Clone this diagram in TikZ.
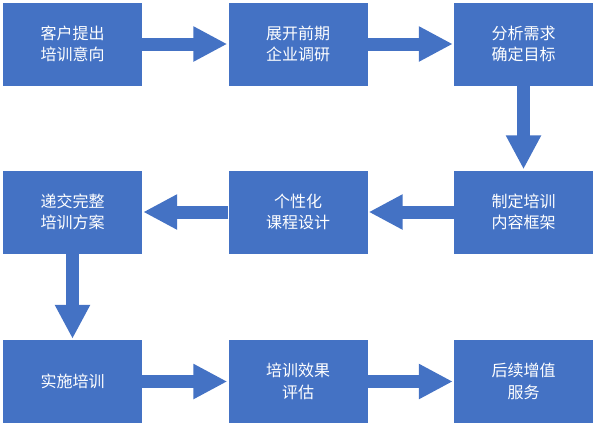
\documentclass[tikz,border=0pt]{standalone}
\usepackage{fontspec}
\newfontfamily\cjk{Noto Sans CJK SC}
\usetikzlibrary{arrows.meta}
\definecolor{boxblue}{HTML}{4472C4}
\tikzset{
  stepbox/.style={fill=boxblue, draw=none, minimum width=139bp, minimum height=83bp,
    inner sep=0pt, text=white, align=center, font=\cjk\fontsize{16bp}{21.5bp}\selectfont},
  flow/.style={draw=boxblue, line width=13bp,
    -{Triangle[length=34bp,width=33bp]}, shorten >=1bp}
}
\begin{document}
\begin{tikzpicture}[x=1bp,y=-1bp]
\useasboundingbox (0,0) rectangle (596,426);
\node[stepbox] (a) at (72.5,44) {客户提出\\培训意向};
\node[stepbox] (b) at (298,44) {展开前期\\企业调研};
\node[stepbox] (c) at (523.5,44) {分析需求\\确定目标};
\node[stepbox] (f) at (523.5,212) {制定培训\\内容框架};
\node[stepbox] (e) at (298,212) {个性化\\课程设计};
\node[stepbox] (d) at (72.5,212) {递交完整\\培训方案};
\node[stepbox] (g) at (72.5,381.5) {实施培训};
\node[stepbox] (h) at (298,381.5) {培训效果\\评估};
\node[stepbox] (i) at (523.5,381.5) {后续增值\\服务};
\draw[flow] (a) -- (b);
\draw[flow] (b) -- (c);
\draw[flow] (c) -- (f);
\draw[flow] (f) -- (e);
\draw[flow] (e) -- (d);
\draw[flow] (d) -- (g);
\draw[flow] (g) -- (h);
\draw[flow] (h) -- (i);
\end{tikzpicture}
\end{document}
